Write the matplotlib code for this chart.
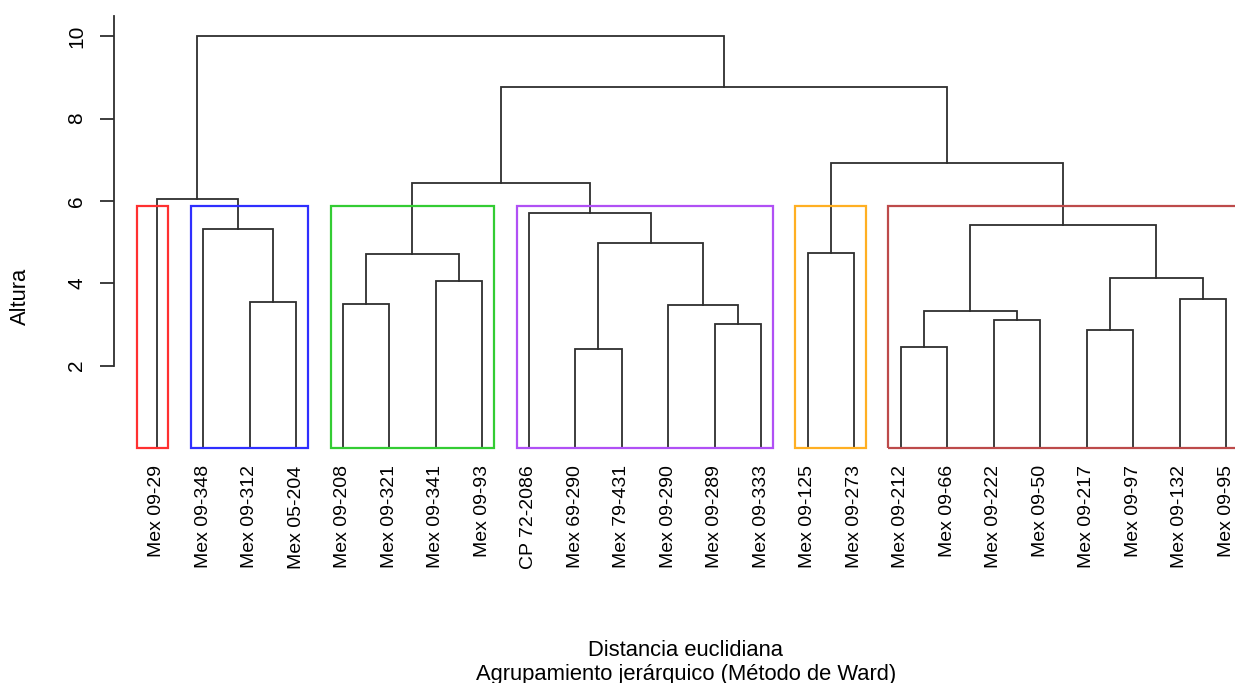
import numpy as np
import matplotlib
matplotlib.use("Agg")
import matplotlib.pyplot as plt
from matplotlib.patches import Rectangle

# =====================================================
# DATA (dendrograma, método de Ward)
# =====================================================
LABELS = ["Mex 09-29", "Mex 09-348", "Mex 09-312", "Mex 05-204",
          "Mex 09-208", "Mex 09-321", "Mex 09-341", "Mex 09-93",
          "CP 72-2086", "Mex 69-290", "Mex 79-431", "Mex 09-290",
          "Mex 09-289", "Mex 09-333", "Mex 09-125", "Mex 09-273",
          "Mex 09-212", "Mex 09-66", "Mex 09-222", "Mex 09-50",
          "Mex 09-217", "Mex 09-97", "Mex 09-132", "Mex 09-95"]

# convención hclust de R: negativo = hoja (1..n), positivo = fila de fusión previa
MERGE_A = [-10, -17, -21, -13, -19, 2, -12, -5, -3, -23, -7, 3,
           8, -15, 1, -2, 6, -9, -1, 13, 14, 20, 19]
MERGE_B = [-11, -18, -22, -14, -20, 5, 4, -6, -4, -24, -8, 10,
           11, -16, 7, 9, 12, 15, 16, 18, 17, 21, 22]
HEIGHTS = [2.40, 2.45, 2.87, 3.01, 3.12, 3.34, 3.47, 3.49, 3.55, 3.62, 4.05, 4.13,
           4.71, 4.74, 4.97, 5.32, 5.42, 5.71, 6.04, 6.43, 6.92, 8.76, 10.00]

CLUSTER_SIZES = [1, 3, 4, 6, 2, 8]
CLUSTER_COLORS = ["#ff3030", "#2f2fff", "#33cc33", "#b050f5", "#ffaf22", "#bd4a4a"]
RECT_PAD_LEFT = [0.42, 0.26, 0.26, 0.26, 0.26, 0.26]
RECT_PAD_RIGHT = 0.25

# =====================================================
# FIGURE
# =====================================================
plt.rcParams['font.family'] = ['Liberation Sans', 'DejaVu Sans']

W, H = 1235, 683
fig = plt.figure(figsize=(W / 100, H / 100), dpi=100)
# región de la gráfica en píxeles (la derecha queda recortada como en el original)
left_px, right_px, top_px, bottom_px = 113.9, 1268.8, 15.5, 464.6
ax = fig.add_axes([left_px / W, 1 - bottom_px / H,
                   (right_px - left_px) / W, (bottom_px - top_px) / H])

n = len(LABELS)
leaf_x = np.arange(1, n + 1)
node_x = []
line_kw = dict(color="#2e2e2e", lw=1.3, solid_joinstyle="miter")


def pos(i):
    if i < 0:
        return leaf_x[-i - 1], 0.0
    return node_x[i - 1], HEIGHTS[i - 1]


for a, b, h in zip(MERGE_A, MERGE_B, HEIGHTS):
    xa, ya = pos(a)
    xb, yb = pos(b)
    ax.plot([xa, xa, xb, xb], [ya, h, h, yb], **line_kw)
    node_x.append((xa + xb) / 2)

# rectángulos de los 6 grupos (como rect.hclust)
k = len(CLUSTER_SIZES)
desc = sorted(HEIGHTS, reverse=True)
rect_top = (desc[k - 2] + desc[k - 1]) / 2
start = 1
for size, col, padl in zip(CLUSTER_SIZES, CLUSTER_COLORS, RECT_PAD_LEFT):
    x0 = start - padl
    x1 = start + size - 1 + RECT_PAD_RIGHT
    ax.add_patch(Rectangle((x0, 0), x1 - x0, rect_top, fill=False,
                           edgecolor=col, lw=1.6, zorder=3))
    start += size

ax.set_xlim(0.08, 24.92)
ax.set_ylim(-0.4, 10.5)

for s in ["top", "right", "bottom"]:
    ax.spines[s].set_visible(False)
ax.spines["left"].set_bounds(2, 10.5)
ax.spines["left"].set_color("#2e2e2e")
ax.spines["left"].set_linewidth(1.3)

ax.set_yticks([2, 4, 6, 8, 10])
ax.tick_params(axis="y", length=10, width=1.3, color="#2e2e2e", pad=10,
               labelsize=15, labelrotation=90)
for t in ax.get_yticklabels():
    t.set_va("center")

ax.set_xticks(leaf_x)
ax.set_xticklabels(LABELS, rotation=90, fontsize=14)
ax.tick_params(axis="x", length=0, pad=0.5)

fig.text(20 / W, 1 - 296.5 / H, "Altura", rotation=90, ha="center", va="center",
         fontsize=15.8)
fig.text(686 / W, 27 / H, "Distancia euclidiana", ha="center", va="baseline",
         fontsize=15.8)
fig.text(686 / W, 3 / H, "Agrupamiento jerárquico (Método de Ward)", ha="center",
         va="baseline", fontsize=15.8)

fig.savefig("out.png", dpi=100)
plt.close(fig)
